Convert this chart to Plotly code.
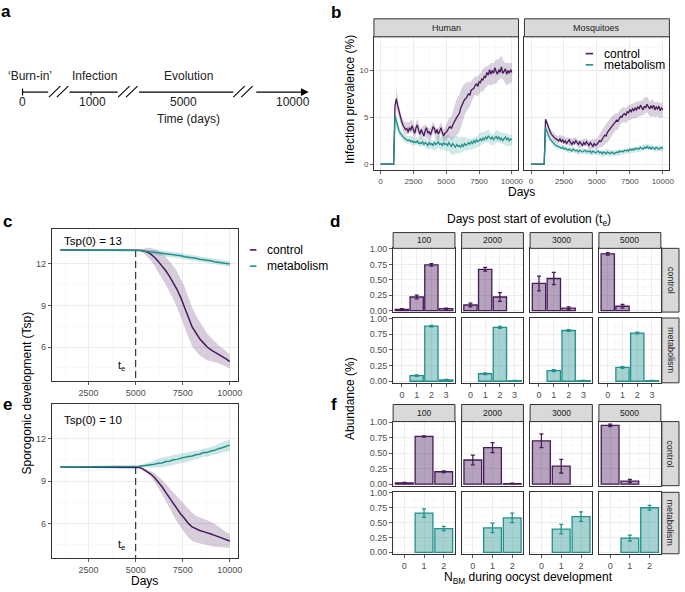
import plotly.graph_objects as go

# ======================= DATA =======================
conditions = ["control", "metabolism"]
hosts = ["Human", "Mosquitoes"]

# panel b : infection prevalence (%) every 100 days
b_days = list(range(0, 10001, 100))
b_human_control = [0] * 11 + [
    6.2, 7.0, 6.3, 5.6, 5.0, 4.6, 4.2, 3.9, 3.7, 3.8,
    3.4, 3.9, 3.6, 4.1, 3.7, 3.3, 3.9, 4.2, 3.6, 3.2,
    3.7, 3.4, 3.0, 3.6, 3.9, 3.3, 3.5, 3.1, 3.6, 4.0,
    3.8, 3.3, 3.7, 3.2, 3.5, 3.9, 3.4, 3.0, 3.3, 3.4,
    3.6, 3.9, 4.0, 3.8, 4.2, 4.5, 4.7, 5.0, 5.2, 5.4,
    6.0, 6.3, 6.5, 6.9, 7.0, 7.3, 7.5, 7.4, 7.9, 8.0,
    8.1, 8.4, 8.6, 8.3, 8.8, 8.7, 9.1, 9.0, 9.4, 9.3,
    9.8, 9.5, 10.1, 9.6, 10.0, 9.7, 10.3, 9.9, 9.6, 10.1,
    9.8, 10.4, 9.7, 9.9, 10.2, 9.6, 10.0, 9.7, 10.1, 9.8]
b_human_metab = [0] * 11 + [
    5.2, 4.6, 4.0, 3.6, 3.3, 3.1, 2.9, 2.8, 2.7, 2.6,
    2.5, 2.6, 2.4, 2.5, 2.3, 2.4, 2.3, 2.5, 2.2, 2.3,
    2.2, 2.4, 2.1, 2.3, 2.2, 2.0, 2.3, 2.1, 2.2, 2.0,
    2.3, 2.1, 2.2, 2.4, 2.1, 2.2, 2.0, 2.3, 2.1, 2.2,
    2.0, 2.3, 2.1, 1.9, 2.2, 2.0, 1.8, 2.1, 1.9, 2.0,
    1.8, 2.1, 1.9, 2.2, 2.0, 2.1, 2.3, 2.1, 2.4, 2.2,
    2.5, 2.3, 2.6, 2.4, 2.5, 2.7, 2.5, 2.8, 2.6, 2.9,
    2.7, 3.0, 2.8, 2.7, 2.9, 2.6, 2.8, 3.0, 2.7, 2.9,
    2.6, 2.8, 2.5, 2.7, 2.9, 2.6, 2.8, 2.5, 2.7, 2.6]
b_mosq_control = [0] * 11 + [
    4.8, 4.4, 3.9, 3.5, 3.3, 3.1, 2.9, 2.8, 2.7, 2.6,
    2.5, 2.7, 2.4, 2.6, 2.3, 2.5, 2.2, 2.4, 2.6, 2.3,
    2.1, 2.4, 2.2, 2.5, 2.3, 2.1, 2.4, 2.2, 2.0, 2.3,
    2.1, 2.4, 2.2, 2.0, 2.3, 2.1, 1.9, 2.2, 2.0, 2.1,
    2.3, 2.5, 2.4, 2.7, 2.9, 3.1, 3.0, 3.4, 3.6, 3.8,
    3.9, 4.2, 4.3, 4.5, 4.7, 4.6, 4.9, 5.1, 5.0, 5.3,
    5.4, 5.2, 5.6, 5.5, 5.8, 5.6, 5.9, 5.7, 6.0, 5.8,
    6.1, 5.9, 6.3, 6.0, 5.8, 6.2, 6.0, 6.4, 6.1, 5.9,
    6.2, 6.0, 6.3, 5.8, 6.1, 5.9, 6.2, 5.7, 6.0, 5.8]
b_mosq_metab = [0] * 11 + [
    3.9, 3.5, 3.1, 2.8, 2.6, 2.4, 2.3, 2.1, 2.0, 1.9,
    1.9, 1.8, 1.7, 1.8, 1.6, 1.7, 1.6, 1.5, 1.6, 1.5,
    1.4, 1.6, 1.5, 1.4, 1.5, 1.3, 1.5, 1.4, 1.3, 1.4,
    1.5, 1.3, 1.4, 1.3, 1.4, 1.2, 1.4, 1.3, 1.2, 1.3,
    1.4, 1.2, 1.3, 1.1, 1.3, 1.2, 1.1, 1.3, 1.2, 1.1,
    1.3, 1.2, 1.1, 1.2, 1.3, 1.2, 1.4, 1.3, 1.4, 1.3,
    1.5, 1.4, 1.5, 1.4, 1.6, 1.5, 1.6, 1.5, 1.7, 1.6,
    1.7, 1.6, 1.8, 1.7, 1.6, 1.8, 1.7, 1.9, 1.7, 1.8,
    1.6, 1.8, 1.7, 1.6, 1.8, 1.7, 1.6, 1.7, 1.8, 1.6]

# ribbon half-widths, every 200 days
b_band_days = list(range(0, 10001, 200))
b_human_control_sd = [0] * 6 + [
    1.0, 0.7, 0.6, 0.6, 0.7, 0.6, 0.7, 0.6, 0.7, 0.6,
    0.6, 0.7, 0.6, 0.7, 0.6, 0.6, 0.7, 0.6, 0.7, 0.8,
    1.0, 1.3, 1.6, 1.9, 2.0, 1.9, 1.7, 1.5, 1.3, 1.1,
    1.0, 1.1, 1.0, 1.2, 1.1, 1.0, 1.2, 1.1, 1.3, 1.1, 1.2, 1.0, 1.2, 1.1, 1.0]
b_human_metab_sd = [0] * 6 + [
    0.6, 0.5, 0.4, 0.4, 0.4, 0.4, 0.5, 0.4, 0.4, 0.5,
    0.4, 0.5, 0.5, 0.4, 0.5, 0.6, 0.6, 0.7, 0.7, 0.8,
    0.9, 0.9, 1.0, 0.9, 0.9, 0.8, 0.7, 0.7, 0.6, 0.6,
    0.6, 0.6, 0.7, 0.6, 0.6, 0.7, 0.6, 0.6, 0.7, 0.6, 0.6, 0.6, 0.7, 0.6, 0.6]
b_mosq_control_sd = [0] * 6 + [
    0.5, 0.4, 0.4, 0.4, 0.4, 0.4, 0.4, 0.4, 0.4, 0.4,
    0.4, 0.4, 0.4, 0.4, 0.4, 0.4, 0.5, 0.5, 0.5, 0.6,
    0.7, 0.9, 1.0, 1.1, 1.1, 1.0, 0.9, 0.9, 0.8, 0.8,
    0.8, 0.8, 0.8, 0.8, 0.9, 0.8, 0.8, 0.9, 0.8, 0.8, 0.9, 0.8, 0.8, 0.8, 0.8]
b_mosq_metab_sd = [0] * 6 + [
    0.4, 0.3, 0.3, 0.3, 0.3, 0.3, 0.3, 0.3, 0.3, 0.3,
    0.3, 0.3, 0.3, 0.3, 0.3, 0.3, 0.3, 0.3, 0.3, 0.3,
    0.3, 0.35, 0.35, 0.35, 0.35, 0.3, 0.3, 0.3, 0.3, 0.3,
    0.3, 0.3, 0.3, 0.3, 0.3, 0.3, 0.3, 0.3, 0.3, 0.3, 0.3, 0.3, 0.3, 0.3, 0.3]

# panels c / e : sporogonic development (Tsp), every 200 days from 1000
c_days = list(range(1000, 10001, 200))
tsp0_values = [13, 10]
evolution_start = 5000
c_control = [13.0] * 21 + [
    12.98, 12.94, 12.86, 12.70, 12.48, 12.18, 11.85, 11.5, 11.1, 10.65,
    10.15, 9.55, 8.9, 8.15, 7.45, 7.0, 6.6, 6.3, 6.0, 5.8,
    5.65, 5.5, 5.35, 5.15, 4.95]
c_control_sd = [0] * 21 + [
    0.05, 0.15, 0.3, 0.45, 0.6, 0.75, 0.9, 1.0, 1.1, 1.2,
    1.3, 1.4, 1.45, 1.45, 1.4, 1.3, 1.2, 1.1, 0.95, 0.85,
    0.75, 0.65, 0.6, 0.55, 0.5]
c_metab = [13.0] * 21 + [
    12.97, 12.93, 12.91, 12.86, 12.84, 12.80, 12.77, 12.74, 12.70, 12.67,
    12.61, 12.58, 12.52, 12.49, 12.43, 12.40, 12.34, 12.31, 12.25, 12.22,
    12.16, 12.13, 12.07, 12.04, 11.99]
c_metab_sd = [0] * 21 + [
    0.05, 0.1, 0.12, 0.15, 0.18, 0.2, 0.2, 0.2, 0.2, 0.2,
    0.2, 0.2, 0.2, 0.2, 0.2, 0.2, 0.2, 0.2, 0.2, 0.2,
    0.2, 0.2, 0.2, 0.2, 0.2]
e_control = [10.0] * 21 + [
    9.97, 9.85, 9.7, 9.5, 9.25, 8.95, 8.6, 8.2, 7.8, 7.4,
    7.0, 6.65, 6.35, 6.0, 5.75, 5.6, 5.5, 5.42, 5.35, 5.25,
    5.15, 5.05, 4.95, 4.85, 4.75]
e_control_sd = [0] * 21 + [
    0.05, 0.1, 0.15, 0.2, 0.3, 0.4, 0.5, 0.6, 0.7, 0.8,
    0.9, 0.95, 1.0, 1.0, 1.0, 0.95, 0.95, 0.9, 0.9, 0.85,
    0.8, 0.7, 0.65, 0.55, 0.5]
e_metab = [10.0] * 21 + [
    10.05, 10.09, 10.11, 10.16, 10.19, 10.26, 10.29, 10.39, 10.41, 10.51,
    10.54, 10.63, 10.66, 10.74, 10.78, 10.87, 10.9, 11.02, 11.03, 11.14,
    11.18, 11.3, 11.36, 11.47, 11.55]
e_metab_sd = [0] * 21 + [
    0.05, 0.1, 0.15, 0.2, 0.25, 0.3, 0.32, 0.35, 0.35, 0.35,
    0.35, 0.35, 0.35, 0.33, 0.3, 0.3, 0.3, 0.3, 0.3, 0.3,
    0.32, 0.35, 0.38, 0.4, 0.4]

# panels d / f : abundance by evolution time
evol_times = ["100", "2000", "3000", "5000"]
d_nbm = [0, 1, 2, 3]
d_control = [[0.02, 0.22, 0.74, 0.03], [0.09, 0.67, 0.22, None],
             [0.44, 0.52, 0.04, None], [0.92, 0.07, None, None]]
d_control_err = [[0.01, 0.03, 0.02, 0.01], [0.03, 0.03, 0.07, 0],
                 [0.12, 0.10, 0.02, 0], [0.02, 0.03, 0, 0]]
d_metab = [[None, 0.09, 0.88, 0.02], [None, 0.12, 0.86, 0.01],
           [None, 0.17, 0.81, 0.01], [None, 0.22, 0.77, 0.01]]
d_metab_err = [[0, 0.01, 0.01, 0.01], [0, 0.015, 0.015, 0.005],
               [0, 0.015, 0.015, 0.005], [0, 0.015, 0.015, 0.005]]
f_nbm = [0, 1, 2]
f_control = [[0.02, 0.77, 0.20], [0.39, 0.59, 0.01], [0.70, 0.29, None], [0.95, 0.05, None]]
f_control_err = [[0.01, 0.01, 0.015], [0.08, 0.08, 0.005], [0.11, 0.11, 0], [0.02, 0.025, 0]]
f_metab = [[None, 0.66, 0.40], [None, 0.41, 0.58], [None, 0.39, 0.60], [None, 0.24, 0.75]]
f_metab_err = [[0, 0.07, 0.035], [0, 0.08, 0.08], [0, 0.08, 0.08], [0, 0.05, 0.04]]

# panel a : timeline schematic
timeline_ticks = [0, 1000, 5000, 10000]
timeline_phases = ["\u2018Burn-in\u2019", "Infection", "Evolution"]

for arr in (b_human_control, b_human_metab, b_mosq_control, b_mosq_metab):
    assert len(arr) == len(b_days)
for arr in (b_human_control_sd, b_human_metab_sd, b_mosq_control_sd, b_mosq_metab_sd):
    assert len(arr) == len(b_band_days)
for arr in (c_control, c_control_sd, c_metab, c_metab_sd, e_control, e_control_sd, e_metab, e_metab_sd):
    assert len(arr) == len(c_days)

# ======================= STYLE / LAYOUT =======================
W, H = 685, 592
PURPLE = "#471A5A"
TEAL = "#21918C"
COLORS = {"control": PURPLE, "metabolism": TEAL}
FONT = "Liberation Sans, Arial, Helvetica, sans-serif"
TICKCOL = "#4D4D4D"
STRIP_FILL = "#D9D9D9"
BORDER = "#333333"


def fx(x):
    return x / W


def fy(y):
    return 1 - y / H


def rgba(hexc, a):
    h = hexc.lstrip("#")
    return f"rgba({int(h[0:2], 16)},{int(h[2:4], 16)},{int(h[4:6], 16)},{a})"


fig = go.Figure()
layout = {}
shapes = []
annotations = []
axis_counter = [0]


def add_axes(xpx, ypx, xr, yr, xdt, xminor, ydt, yminor, xlabels, ylabels,
             xfmt="d", yfmt="d", tick_size=9):
    axis_counter[0] += 1
    n = axis_counter[0]
    s = "" if n == 1 else str(n)
    common = dict(showline=True, mirror=True, linecolor=BORDER, linewidth=1,
                  ticklen=3, tickcolor=BORDER, tickwidth=0.8,
                  showgrid=True, gridcolor="#EBEBEB", gridwidth=0.9, zeroline=False,
                  tickfont=dict(size=tick_size, color=TICKCOL, family=FONT),
                  fixedrange=True, tickmode="linear", tick0=0)
    xa = dict(common, domain=[fx(xpx[0]), fx(xpx[1])], range=xr, anchor="y" + s,
              dtick=xdt, ticks="outside" if xlabels else "", showticklabels=xlabels,
              tickformat=xfmt,
              minor=dict(dtick=xminor, tick0=0, showgrid=True, gridcolor="#F5F5F5", gridwidth=0.6))
    ya = dict(common, domain=[fy(ypx[1]), fy(ypx[0])], range=yr, anchor="x" + s,
              dtick=ydt, ticks="outside" if ylabels else "", showticklabels=ylabels,
              tickformat=yfmt,
              minor=dict(dtick=yminor, tick0=0, showgrid=True, gridcolor="#F5F5F5", gridwidth=0.6))
    layout["xaxis" + s] = xa
    layout["yaxis" + s] = ya
    return "x" + s, "y" + s


def strip(x0, x1, y0, y1, text, size, angle=0):
    shapes.append(dict(type="rect", xref="paper", yref="paper",
                       x0=fx(x0), x1=fx(x1), y0=fy(y1), y1=fy(y0),
                       fillcolor=STRIP_FILL, line=dict(color=BORDER, width=1), layer="above"))
    annotations.append(dict(xref="paper", yref="paper", x=fx((x0 + x1) / 2), y=fy((y0 + y1) / 2),
                            text=text, showarrow=False, textangle=angle,
                            font=dict(size=size, color="#1A1A1A", family=FONT),
                            xanchor="center", yanchor="middle"))


def text(x, y, t, size=12, color="black", angle=0, bold=False, xanchor="center"):
    if bold:
        t = f"<b>{t}</b>"
    annotations.append(dict(xref="paper", yref="paper", x=fx(x), y=fy(y), text=t,
                            showarrow=False, textangle=angle, xanchor=xanchor, yanchor="middle",
                            font=dict(size=size, color=color, family=FONT)))


def seg(x0, y0, x1, y1, color="black", width=1.2):
    shapes.append(dict(type="line", xref="paper", yref="paper",
                       x0=fx(x0), y0=fy(y0), x1=fx(x1), y1=fy(y1),
                       line=dict(color=color, width=width)))


def ribbon(xa, ya, days, centre, sd, color, alpha):
    up = [c + s for c, s in zip(centre, sd)]
    lo = [c - s for c, s in zip(centre, sd)]
    fig.add_trace(go.Scatter(x=list(days) + list(days)[::-1], y=up + lo[::-1],
                             fill="toself", fillcolor=rgba(color, alpha), mode="lines",
                             line=dict(width=0, color=rgba(color, 0)), hoverinfo="skip",
                             showlegend=False, xaxis=xa, yaxis=ya))


def line(xa, ya, days, vals, color, width):
    fig.add_trace(go.Scatter(x=days, y=vals, mode="lines", line=dict(color=color, width=width),
                             showlegend=False, xaxis=xa, yaxis=ya))


# ---------------- panel a (schematic timeline) ----------------
LY = 89.3
tick_pos = {0: 22.7, 1000: 93.3, 5000: 185, 10000: 295}
seg_spans = [(22.7, 48.5), (70, 118.5), (140, 235)]
for a0, a1 in seg_spans:
    seg(a0, LY, a1, LY)
for bx in (49.3, 119.0, 235.0):
    seg(bx, 94.3, bx + 11.5, 83.3, width=1.1)
    seg(bx + 8, 94.3, bx + 19.5, 83.3, width=1.1)
seg(22.7, 85.8, 22.7, 92.8)
seg(91.7, LY, 91.7, 92.6, width=1)
annotations.append(dict(xref="paper", yref="paper", axref="pixel", ayref="pixel",
                        x=fx(311), y=fy(LY), ax=-(311 - 257), ay=0, text="",
                        showarrow=True, arrowhead=2, arrowsize=1.3, arrowwidth=1.2,
                        arrowcolor="black"))
for t in timeline_ticks:
    text(tick_pos[t], 99.8, str(t), size=12, color="#222222")
for ph, xpos in zip(timeline_phases, (30, 95, 190)):
    text(xpos, 72.5, ph, size=12, color="#222222")
text(190, 117, "Time (days)", size=12, color="#222222")

# ---------------- panel b ----------------
b_x = [(376.7, 522.3), (528.3, 674.3)]
b_y = (33.3, 168.3)
b_series = {"Human": (b_human_control, b_human_metab, b_human_control_sd, b_human_metab_sd),
            "Mosquitoes": (b_mosq_control, b_mosq_metab, b_mosq_control_sd, b_mosq_metab_sd)}
for i, host in enumerate(hosts):
    xa, ya = add_axes(b_x[i], b_y, [-500, 10500], [-0.63, 13.6], 2500, 1250, 5, 2.5,
                      True, i == 0, tick_size=8)
    ctrl, met, ctrl_sd, met_sd = b_series[host]
    ribbon(xa, ya, b_band_days, ctrl[::2], ctrl_sd, PURPLE, 0.2)
    ribbon(xa, ya, b_band_days, met[::2], met_sd, TEAL, 0.2)
    line(xa, ya, b_days, ctrl, PURPLE, 1.3)
    line(xa, ya, b_days, met, TEAL, 1.3)
    strip(b_x[i][0], b_x[i][1], 15, 33.3, host, 9)
text(352, 97, "Infection prevalence (%)", size=12, angle=-90)
text(525, 191, "Days", size=12)
for k, cond in enumerate(conditions):
    seg(590, 50.3 + 11.4 * k, 597.5, 50.3 + 11.4 * k, color=COLORS[cond], width=1.6)
    text(606.5, 50.3 + 11.4 * k, cond, size=12, xanchor="left")

# ---------------- panels c & e ----------------
ce_y = [(228.3, 382.3), (405, 561.7)]
ce_data = [(c_control, c_control_sd, c_metab, c_metab_sd),
           (e_control, e_control_sd, e_metab, e_metab_sd)]
YR = [3.54, 14.5]
for k in range(2):
    xa, ya = add_axes((52.3, 240), ce_y[k], [550, 10450], YR, 2500, 1250, 3, 1.5,
                      True, True, tick_size=9)
    ctrl, ctrl_sd, met, met_sd = ce_data[k]
    ribbon(xa, ya, c_days, ctrl, ctrl_sd, PURPLE, 0.22)
    ribbon(xa, ya, c_days, met, met_sd, TEAL, 0.22)
    fig.add_trace(go.Scatter(x=[evolution_start, evolution_start], y=[tsp0_values[k], YR[0]],
                             mode="lines", line=dict(color="#222222", width=1.1, dash="7px,4px"),
                             showlegend=False, xaxis=xa, yaxis=ya))
    line(xa, ya, c_days, ctrl, PURPLE, 1.5)
    line(xa, ya, c_days, met, TEAL, 1.5)
    annotations.append(dict(xref=xa, yref=ya, x=2750, y=13.65 if k == 0 else 13.35,
                            text=f"Tsp(0) = {tsp0_values[k]}", showarrow=False,
                            font=dict(size=11.5, color="black", family=FONT)))
    annotations.append(dict(xref=xa, yref=ya, x=4230, y=4.6 if k == 0 else 4.5,
                            text="t<sub>e</sub>", showarrow=False,
                            font=dict(size=11, color="black", family=FONT)))
text(27, 394, "Sporogonic development (Tsp)", size=12, angle=-90)
text(146, 584.5, "Days", size=12)
for k, cond in enumerate(conditions):
    yy = 249.3 + 16.4 * k
    seg(251.7, yy, 258.3, yy, color=COLORS[cond], width=1.6)
    text(266.7, yy, cond, size=12, xanchor="left")

# ---------------- panels d & f ----------------
cols_x = [(396, 458.3), (465, 527.3), (534, 596.7), (603.3, 665.7)]
blocks = [
    dict(nbm=d_nbm, xr=[-0.6, 3.6], strip_y=(231.7, 247.7),
         rows=[(247.7, 312.3), (318.3, 384)],
         data=[(d_control, d_control_err), (d_metab, d_metab_err)]),
    dict(nbm=f_nbm, xr=[-0.57, 2.57], strip_y=(406, 423.3),
         rows=[(423.3, 488.3), (495, 557.3)],
         data=[(f_control, f_control_err), (f_metab, f_metab_err)]),
]
for blk in blocks:
    for r, cond in enumerate(conditions):
        vals, errs = blk["data"][r]
        col = COLORS[cond]
        for ci, tlabel in enumerate(evol_times):
            xa, ya = add_axes(cols_x[ci], blk["rows"][r], blk["xr"], [-0.025, 1.01],
                              1, 0.5, 0.25, 0.125, r == 1, ci == 0, yfmt=".2f", tick_size=9)
            fig.add_trace(go.Bar(x=blk["nbm"], y=vals[ci], width=0.9,
                                 marker=dict(color=rgba(col, 0.4), line=dict(color=col, width=1.3)),
                                 error_y=dict(type="data", array=errs[ci], color=col,
                                              thickness=1.3, width=2),
                                 showlegend=False, xaxis=xa, yaxis=ya))
            if r == 0:
                strip(cols_x[ci][0], cols_x[ci][1], blk["strip_y"][0], blk["strip_y"][1], tlabel, 8.5)
        strip(666.7, 684, blk["rows"][r][0], blk["rows"][r][1], cond, 9, angle=90)
text(533, 219, "Days post start of evolution (t<sub>e</sub>)", size=12)
text(352, 400, "Abundance (%)", size=12, angle=-90)
text(532, 582, "N<sub>BM</sub> during oocyst development", size=12)

# ---------------- panel letters ----------------
for letter, (lx, ly) in zip("abcdef", [(6, 8), (338, 9), (8, 220), (337, 220), (8, 406), (336, 406)]):
    text(lx, ly, letter, size=17, bold=True)

fig.update_layout(
    width=W, height=H, autosize=False,
    margin=dict(l=0, r=0, t=0, b=0, pad=0),
    paper_bgcolor="white", plot_bgcolor="white",
    showlegend=False, bargap=0,
    font=dict(family=FONT, size=12, color="black"),
    shapes=shapes, annotations=annotations,
    **layout,
)
fig.write_html("out.html",
               config={"displayModeBar": False, "staticPlot": True},
               post_script="document.body.style.margin='0';document.body.style.overflow='hidden';")
